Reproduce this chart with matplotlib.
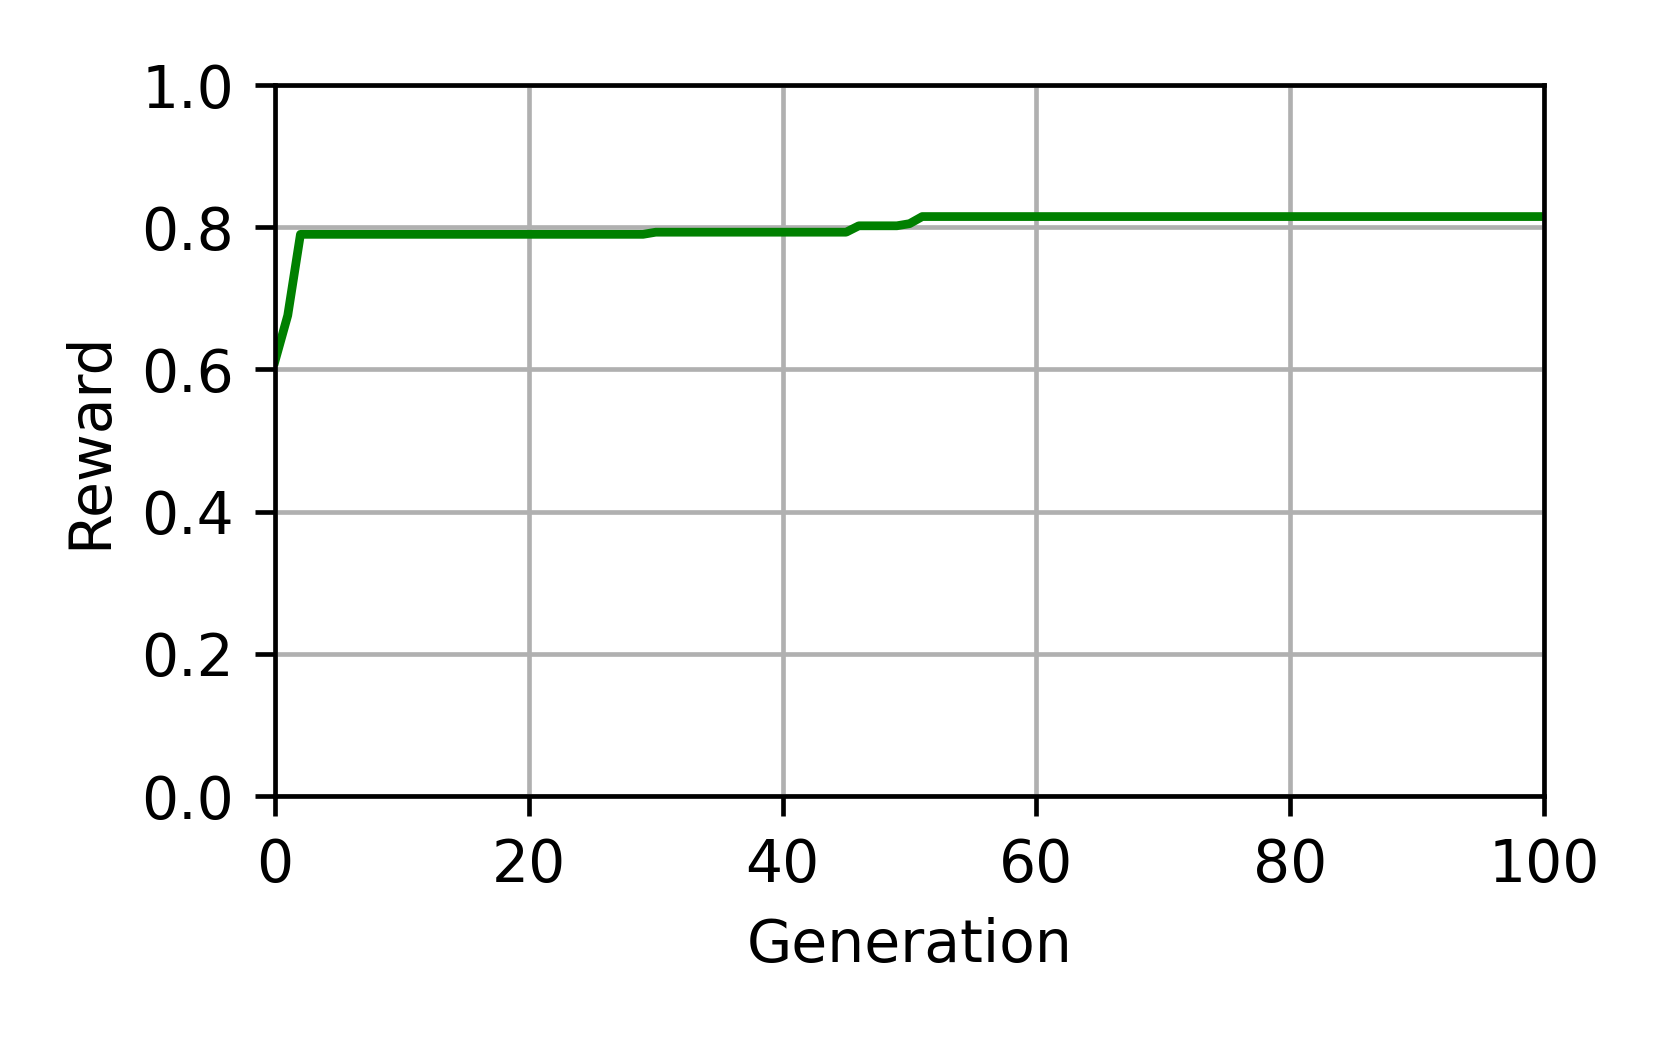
import matplotlib
matplotlib.use("Agg")
import matplotlib.pyplot as plt

# generations where the best reward changes (flat in between)
generation = [0, 1, 2, 29, 30, 45, 46, 49, 50, 51, 100]
reward = [0.612, 0.676, 0.790, 0.790, 0.793, 0.793, 0.802, 0.802, 0.805, 0.815, 0.815]

DPI = 420
fig = plt.figure(figsize=(1661/DPI, 1038/DPI), dpi=DPI)
ax = fig.add_axes([0.1656, 0.2331, 0.7640, 0.6850])

ax.plot(generation, reward, color='green', linewidth=1.5)

ax.set_xlim(0, 100)
ax.set_ylim(0, 1.0)
ax.set_xlabel('Generation')
ax.set_ylabel('Reward')
ax.grid(True)

fig.savefig('out.png', dpi=DPI)
